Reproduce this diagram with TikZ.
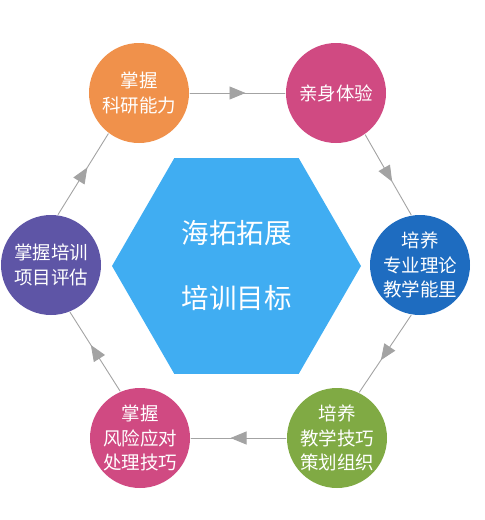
\documentclass[tikz,border=0pt]{standalone}
\usepackage{fontspec}
\setmainfont{Noto Sans CJK SC}
\usepackage{tikz}
\usetikzlibrary{arrows.meta,shapes.geometric,decorations.markings}
\definecolor{hexblue}{HTML}{40ADF2}
\definecolor{goalorange}{HTML}{F0914B}
\definecolor{goalpink}{HTML}{D04A82}
\definecolor{goalblue}{HTML}{1E6CC0}
\definecolor{goalgreen}{HTML}{80AA44}
\definecolor{goalpurple}{HTML}{5E55A6}
\definecolor{linkgray}{HTML}{A3A3A3}

\begin{document}
\begin{tikzpicture}[
    x=1pt, y=-1pt,
    line cap=round,
    line join=round,
    goal/.style={circle, minimum size=100pt, inner sep=0pt, outer sep=1pt, text=white, align=center, font=\fontsize{18.5}{24.5}\selectfont},
    orangegoal/.style={goal, fill=goalorange},
    pinkgoal/.style={goal, fill=goalpink},
    bluegoal/.style={goal, fill=goalblue},
    greengoal/.style={goal, fill=goalgreen},
    purplegoal/.style={goal, fill=goalpurple},
    hexbox/.style={regular polygon, regular polygon sides=6, minimum size=249pt, inner sep=0pt, fill=hexblue, text=white, align=center, font=\fontsize{27.5}{65}\selectfont},
    link/.style={draw=linkgray, line width=0.9pt, postaction={decorate},
        decoration={markings, mark=at position 0.5 with {\pgftransformxshift{8pt}\arrow[linkgray]{Triangle[length=16pt,width=13pt]}}}}
]
\useasboundingbox (0,0) rectangle (485,520);

% Centre hexagon
\node[hexbox] (aim) at (236.5,266) {海拓拓展\\培训目标};

% Goal circles
\node[orangegoal] (research) at (139,93) {掌握\\科研能力};
\node[pinkgoal] (practice) at (336,93) {亲身体验};
\node[bluegoal] (theory) at (420,265) {培养\\专业理论\\教学能里};
\node[greengoal] (skills) at (337,438) {培养\\教学技巧\\策划组织};
\node[pinkgoal] (risk) at (140,438) {掌握\\风险应对\\处理技巧};
\node[purplegoal] (assess) at (51,265) {掌握培训\\项目评估};

% Cycle arrows
\draw[link] (research.east) -- (practice.west);
\draw[link] (practice.-55) -- (theory.100);
\draw[link] (theory.-100) -- (skills.64);
\draw[link] (skills.west) -- (risk.east);
\draw[link] (risk.113) -- (assess.-68);
\draw[link] (assess.82) -- (research.233);

\end{tikzpicture}
\end{document}
